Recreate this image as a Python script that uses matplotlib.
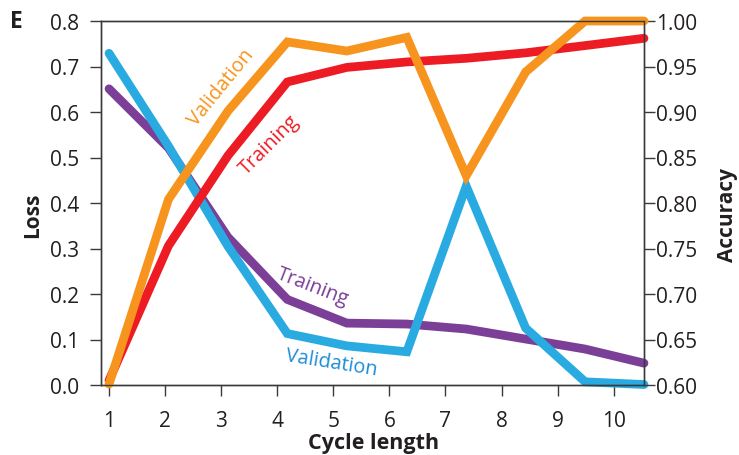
import matplotlib
matplotlib.use("Agg")
import matplotlib.pyplot as plt

plt.rcParams['font.family'] = ['Open Sans', 'DejaVu Sans']

# Data (x positions as plotted)
cycle_x = [1.0, 2.06, 3.12, 4.18, 5.24, 6.31, 7.37, 8.43, 9.49, 10.54]
loss_train = [0.651, 0.521, 0.325, 0.188, 0.136, 0.134, 0.123, 0.101, 0.079, 0.048]
loss_val = [0.729, 0.525, 0.305, 0.113, 0.086, 0.073, 0.437, 0.125, 0.007, 0.001]
acc_train = [0.605, 0.753, 0.852, 0.933, 0.949, 0.955, 0.959, 0.965, 0.973, 0.981]
acc_val = [0.601, 0.804, 0.901, 0.977, 0.967, 0.982, 0.830, 0.944, 1.000, 1.000]

x_ticks = [1, 2, 3, 4, 5, 6, 7, 8, 9, 10]
loss_ticks = [0.0, 0.1, 0.2, 0.3, 0.4, 0.5, 0.6, 0.7, 0.8]
acc_ticks = [0.60, 0.65, 0.70, 0.75, 0.80, 0.85, 0.90, 0.95, 1.00]

c_orange = '#F7941D'
c_red = '#ED1C24'
c_purple = '#7B3F98'
c_blue = '#29ABE2'
c_blue_txt = '#1F8DD6'
c_axis = '#231F20'

fig = plt.figure(figsize=(7.39, 4.56), dpi=100)
ax = fig.add_axes([101/739, 70/456, 543/739, 364/456])
ax2 = ax.twinx()

lw = 6.3
common = dict(lw=lw, solid_capstyle='round', solid_joinstyle='miter', clip_on=False)
ax.plot(cycle_x, loss_train, color=c_purple, **common)
ax.plot(cycle_x, loss_val, color=c_blue, **common)
ax2.plot(cycle_x, acc_train, color=c_red, **common)
ax2.plot(cycle_x, acc_val, color=c_orange, **common)

ax.set_xlim(0.857, 10.54)
ax.set_ylim(0.0, 0.8)
ax2.set_ylim(0.60, 1.00)

ax.set_xticks(x_ticks)
ax.set_yticks(loss_ticks)
ax.set_yticklabels([f"{v:.1f}" for v in loss_ticks])
ax2.set_yticks(acc_ticks)
ax2.set_yticklabels([f"{v:.2f}" for v in acc_ticks])

for a in (ax, ax2):
    for s in a.spines.values():
        s.set_color('#3a3a3a')
        s.set_linewidth(1.0)

ax.tick_params(axis='x', direction='out', length=8, width=1.0, color='#3a3a3a',
               labelsize=15, pad=10, labelcolor=c_axis)
ax.tick_params(axis='y', direction='out', length=8, width=1.0, color='#3a3a3a',
               labelsize=15, pad=8, labelcolor=c_axis)
ax2.tick_params(axis='y', direction='out', length=8, width=1.0, color='#3a3a3a',
                labelsize=15, pad=0.5, labelcolor=c_axis)

# Axis labels
fig.text(33/739, 1 - 215/456, 'Loss', rotation=90, ha='center', va='center',
         fontsize=15, fontweight='bold', color=c_axis)
fig.text(727/739, 1 - 215/456, 'Accuracy', rotation=90, ha='center', va='center',
         fontsize=15, fontweight='bold', color=c_axis)
fig.text(374/739, 1 - 444/456, 'Cycle length', ha='center', va='center',
         fontsize=15.5, fontweight='bold', color=c_axis)
fig.text(16/739, 1 - 22/456, 'E', ha='center', va='center',
         fontsize=16.5, fontweight='bold', color=c_axis)

# In-plot annotations
def lab(fx, fy, s, col, rot):
    ax.text(fx, fy, s, transform=ax.transAxes, color=col, fontsize=14.3,
            rotation=rot, rotation_mode='anchor', ha='center', va='center')

lab(0.221, 0.819, 'Validation', c_orange, 51)
lab(0.310, 0.662, 'Training', c_red, 45)
lab(0.389, 0.272, 'Training', c_purple, -21)
lab(0.425, 0.063, 'Validation', c_blue_txt, -9)

fig.savefig('out.png', dpi=100)
